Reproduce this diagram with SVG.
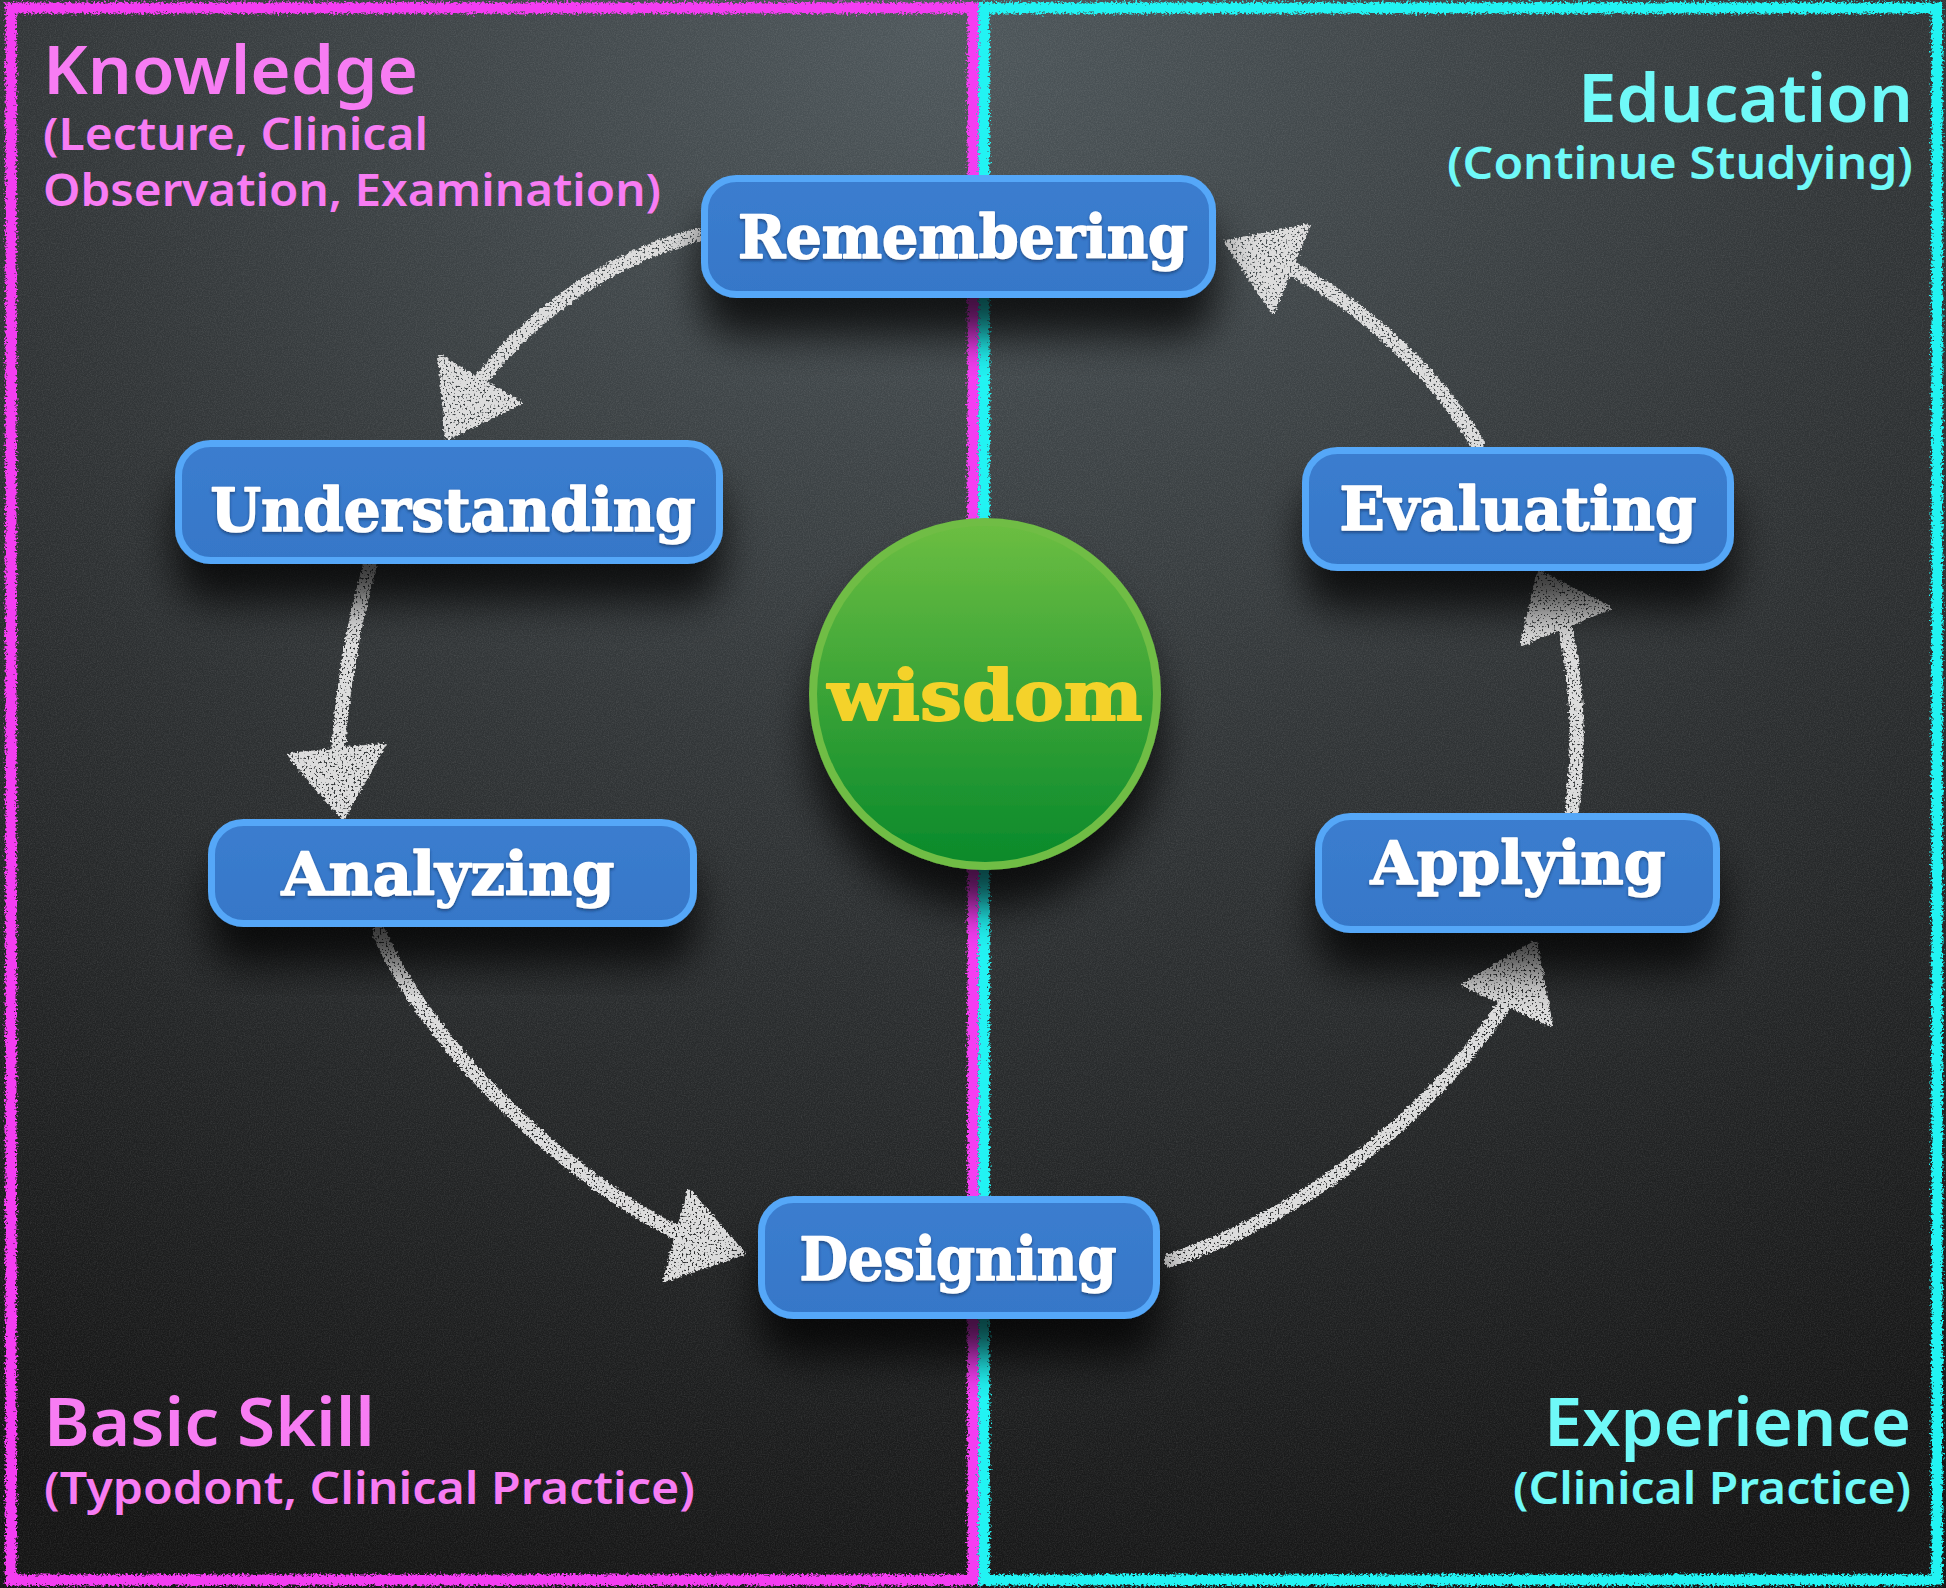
<svg xmlns="http://www.w3.org/2000/svg" width="1946" height="1588" viewBox="0 0 1946 1588">
<defs>
<style>
.lbl{font-family:"Noto Sans","Open Sans","DejaVu Sans",sans-serif;font-weight:600;}
.main{font-size:66px;}
.sub{font-size:45px;}
.pink{fill:#f77cf3;}
.cyan{fill:#6ff9f8;}
.node rect{fill:url(#nodeFill);stroke:#54a7f8;stroke-width:7;}
.node text{font-family:"DejaVu Serif","Liberation Serif",serif;font-weight:bold;font-size:60px;fill:#ffffff;stroke:#ffffff;stroke-width:1.6;stroke-linejoin:round;text-anchor:middle;}
.arrow path{fill:none;stroke:#dcdcdc;stroke-width:14;stroke-linecap:round;}
.arrow polygon{fill:#dcdcdc;stroke:#dcdcdc;stroke-width:4;stroke-linejoin:round;}
</style>
<radialGradient id="bg" cx="50%" cy="0%" r="105%" fx="48%" fy="2%">
<stop offset="0" stop-color="#4e575b"/>
<stop offset="0.45" stop-color="#323638"/>
<stop offset="1" stop-color="#141414"/>
</radialGradient>
<linearGradient id="nodeFill" x1="0" y1="0" x2="0" y2="1">
<stop offset="0" stop-color="#3b7dcf"/>
<stop offset="1" stop-color="#3677c8"/>
</linearGradient>
<linearGradient id="ballFill" x1="0" y1="0" x2="0" y2="1">
<stop offset="0" stop-color="#6cbe42"/>
<stop offset="1" stop-color="#08892b"/>
</linearGradient>
<filter id="noise" x="0" y="0" width="100%" height="100%">
<feTurbulence type="fractalNoise" baseFrequency="0.85" numOctaves="2" seed="4"/>
<feColorMatrix type="matrix" values="0 0 0 0 1  0 0 0 0 1  0 0 0 0 1  0 0 0 0.35 -0.12"/>
</filter>
<filter id="rough" x="-2%" y="-2%" width="104%" height="104%">
<feTurbulence type="fractalNoise" baseFrequency="0.45" numOctaves="2" seed="2" result="n"/>
<feDisplacementMap in="SourceGraphic" in2="n" scale="8" xChannelSelector="R" yChannelSelector="G"/>
</filter>
<filter id="chalk" x="-10%" y="-10%" width="120%" height="120%">
<feTurbulence type="fractalNoise" baseFrequency="0.35" numOctaves="2" seed="3" result="n"/>
<feDisplacementMap in="SourceGraphic" in2="n" scale="6" xChannelSelector="R" yChannelSelector="G" result="d"/>
<feTurbulence type="fractalNoise" baseFrequency="0.5" numOctaves="1" seed="9" result="n2"/>
<feColorMatrix in="n2" type="matrix" values="0 0 0 0 0  0 0 0 0 0  0 0 0 0 0  0 0 0 -8 5.6" result="holes"/>
<feComposite in="d" in2="holes" operator="in"/>
</filter>
<filter id="shadow" x="-20%" y="-30%" width="140%" height="200%">
<feGaussianBlur in="SourceAlpha" stdDeviation="20"/>
<feOffset dy="38" result="b"/>
<feFlood flood-color="#000" flood-opacity="0.75"/>
<feComposite in2="b" operator="in" result="s"/>
<feMerge><feMergeNode in="s"/><feMergeNode in="SourceGraphic"/></feMerge>
</filter>
<filter id="txtsh" x="-5%" y="-20%" width="110%" height="140%">
<feDropShadow dx="0" dy="2" stdDeviation="1.5" flood-color="#0a2a55" flood-opacity="0.6"/>
</filter>
</defs>

<rect width="1946" height="1588" fill="url(#bg)"/>
<rect width="1946" height="1588" filter="url(#noise)" opacity="0.5"/>

<g id="frames" fill="none" stroke-width="11" filter="url(#rough)">
<rect x="11" y="8" width="962" height="1572" stroke="#f43ef2"/>
<rect x="984" y="8" width="953" height="1572" stroke="#22f3f3"/>
</g>

<g id="labels" class="lbl">
<text class="main pink" x="43" y="94" textLength="375" lengthAdjust="spacingAndGlyphs">Knowledge</text>
<text class="sub pink" x="43" y="150" textLength="385" lengthAdjust="spacingAndGlyphs">(Lecture, Clinical</text>
<text class="sub pink" x="43" y="206" textLength="618" lengthAdjust="spacingAndGlyphs">Observation, Examination)</text>
<text class="main cyan" x="1578" y="122" textLength="335" lengthAdjust="spacingAndGlyphs">Education</text>
<text class="sub cyan" x="1447" y="179" textLength="466" lengthAdjust="spacingAndGlyphs">(Continue Studying)</text>
<text class="main pink" x="44" y="1446" textLength="331" lengthAdjust="spacingAndGlyphs">Basic Skill</text>
<text class="sub pink" x="44" y="1504" textLength="651" lengthAdjust="spacingAndGlyphs">(Typodont, Clinical Practice)</text>
<text class="main cyan" x="1544" y="1446" textLength="367" lengthAdjust="spacingAndGlyphs">Experience</text>
<text class="sub cyan" x="1513" y="1504" textLength="398" lengthAdjust="spacingAndGlyphs">(Clinical Practice)</text>
</g>

<g id="connectors" class="arrow" filter="url(#chalk)">
<g id="e-rem-und">
<path d="M697,235 C620,255 540,305 482,378"/>
<polygon points="440,357 520,403 447,438"/>
</g>
<g id="e-und-ana">
<path d="M370,566 C354,620 342,690 338,752"/>
<polygon points="289,755 384,745 343,818"/>
</g>
<g id="e-ana-des">
<path d="M379,932 C420,1030 540,1160 678,1234"/>
<polygon points="689,1191 743,1253 665,1280"/>
</g>
<g id="e-des-app">
<path d="M1171,1260 C1290,1220 1420,1130 1508,1000"/>
<polygon points="1464,985 1551,1025 1535,942"/>
</g>
<g id="e-app-eva">
<path d="M1572,809 C1580,750 1578,690 1566,630"/>
<polygon points="1522,644 1609,608 1539,572"/>
</g>
<g id="e-eva-rem">
<path d="M1477,443 C1440,380 1370,310 1290,268"/>
<polygon points="1226,242 1308,226 1273,312"/>
</g>
</g>

<g id="node-wisdom" filter="url(#shadow)">
<circle cx="985" cy="694" r="172" fill="url(#ballFill)" stroke="#6fbd44" stroke-width="8"/>
<text x="985" y="720" text-anchor="middle" font-family="DejaVu Serif, Liberation Serif, serif" font-weight="bold" font-size="70" fill="#f4d22c" stroke="#f4d22c" stroke-width="1.8" stroke-linejoin="round" textLength="315" lengthAdjust="spacingAndGlyphs">wisdom</text>
</g>

<g id="node-remembering" class="node" filter="url(#shadow)">
<rect x="704.5" y="178.5" width="508" height="116" rx="32"/>
<text x="963" y="258" textLength="450" lengthAdjust="spacingAndGlyphs" filter="url(#txtsh)">Remembering</text>
</g>
<g id="node-understanding" class="node" filter="url(#shadow)">
<rect x="178.5" y="443.5" width="541" height="117" rx="32"/>
<text x="453" y="531" textLength="485" lengthAdjust="spacingAndGlyphs" filter="url(#txtsh)">Understanding</text>
</g>
<g id="node-evaluating" class="node" filter="url(#shadow)">
<rect x="1305.5" y="450.5" width="425" height="117" rx="32"/>
<text x="1518" y="530" textLength="357" lengthAdjust="spacingAndGlyphs" filter="url(#txtsh)">Evaluating</text>
</g>
<g id="node-analyzing" class="node" filter="url(#shadow)">
<rect x="211.5" y="822.5" width="482" height="101" rx="32"/>
<text x="448" y="895" textLength="333" lengthAdjust="spacingAndGlyphs" filter="url(#txtsh)">Analyzing</text>
</g>
<g id="node-applying" class="node" filter="url(#shadow)">
<rect x="1318.5" y="816.5" width="398" height="113" rx="32"/>
<text x="1518" y="884" textLength="295" lengthAdjust="spacingAndGlyphs" filter="url(#txtsh)">Applying</text>
</g>
<g id="node-designing" class="node" filter="url(#shadow)">
<rect x="761.5" y="1199.5" width="395" height="116" rx="32"/>
<text x="958" y="1280" textLength="317" lengthAdjust="spacingAndGlyphs" filter="url(#txtsh)">Designing</text>
</g>
</svg>
